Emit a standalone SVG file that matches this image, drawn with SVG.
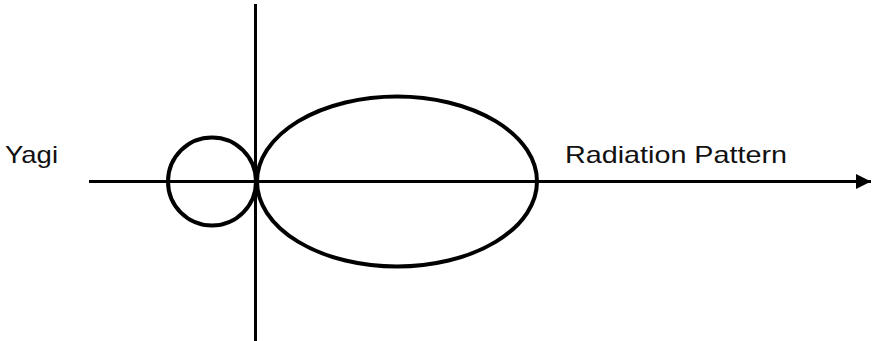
<svg xmlns="http://www.w3.org/2000/svg" width="872" height="341" viewBox="0 0 872 341">
<style>
.ln{stroke:#000;stroke-width:3;fill:none}
.sh{stroke:#000;stroke-width:4;fill:none}
.t{font-family:"Liberation Sans",Arial,sans-serif;font-size:24px;fill:#111}
</style>
<defs>
<marker id="ah" markerWidth="15" markerHeight="16" refX="15" refY="8" orient="auto" markerUnits="userSpaceOnUse">
<path d="M0,0.5 L15,8 L0,15.5 Z" fill="#000"/>
</marker>
</defs>
<rect width="872" height="341" fill="#fff"/>
<g id="connectors">
<line class="ln" x1="89" y1="181.5" x2="871" y2="181.5" marker-end="url(#ah)"/>
<line class="ln" x1="255.5" y1="4" x2="255.5" y2="341"/>
</g>
<g id="back-lobe"><circle class="sh" cx="212" cy="181.5" r="44"/></g>
<g id="main-lobe"><ellipse class="sh" cx="397" cy="181.5" rx="140" ry="85"/></g>
<g id="label-yagi"><text class="t" x="5" y="163" textLength="53" lengthAdjust="spacingAndGlyphs">Yagi</text></g>
<g id="label-pattern"><text class="t" x="565" y="163" textLength="222" lengthAdjust="spacingAndGlyphs">Radiation Pattern</text></g>
</svg>
